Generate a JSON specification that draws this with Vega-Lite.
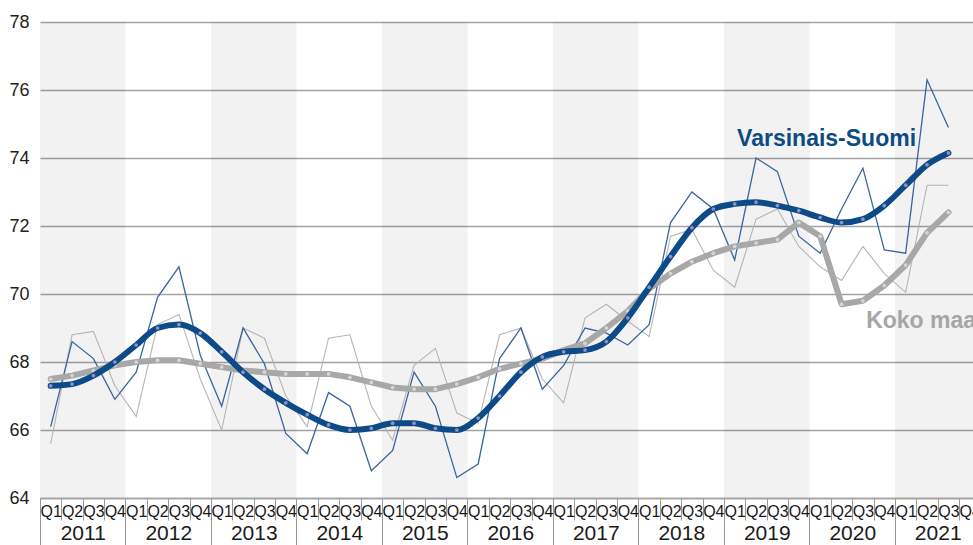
{
  "$schema": "https://vega.github.io/schema/vega-lite/v6.json",
  "width": 933,
  "height": 476,
  "autosize": {"type": "none"},
  "padding": {"left": 40, "top": 22, "right": 0, "bottom": 47},
  "background": "white",
  "config": {
    "view": {"stroke": null},
    "axisY": {
      "title": null, "tickCount": 8,
      "grid": true, "gridColor": "#a3a3a3", "gridWidth": 1.5,
      "domain": false, "ticks": false, "labelPadding": 11,
      "labelFont": "Liberation Sans, Arial, sans-serif", "labelFontSize": 18, "labelColor": "#222222"
    }
  },
  "datasets": {
    "bands": [
      {"year": 2011, "start": 0, "end": 4},
      {"year": 2013, "start": 8, "end": 12},
      {"year": 2015, "start": 16, "end": 20},
      {"year": 2017, "start": 24, "end": 28},
      {"year": 2019, "start": 32, "end": 36},
      {"year": 2021, "start": 40, "end": 44}
    ],
    "labels": [
      {"label": "Varsinais-Suomi", "t": 36.8, "v": 74.55, "series": "vs"},
      {"label": "Koko maa", "t": 38.65, "v": 69.2, "series": "km"}
    ],
    "series": [
      {"q": "2011Q1", "t": 0.5, "vs_raw": 66.1, "vs_trend": 67.3, "km_raw": 65.6, "km_trend": 67.5},
      {"q": "2011Q2", "t": 1.5, "vs_raw": 68.6, "vs_trend": 67.35, "km_raw": 68.8, "km_trend": 67.6},
      {"q": "2011Q3", "t": 2.5, "vs_raw": 68.1, "vs_trend": 67.6, "km_raw": 68.9, "km_trend": 67.75},
      {"q": "2011Q4", "t": 3.5, "vs_raw": 66.9, "vs_trend": 68.0, "km_raw": 67.3, "km_trend": 67.9},
      {"q": "2012Q1", "t": 4.5, "vs_raw": 67.7, "vs_trend": 68.5, "km_raw": 66.4, "km_trend": 68.0},
      {"q": "2012Q2", "t": 5.5, "vs_raw": 69.9, "vs_trend": 69.0, "km_raw": 69.1, "km_trend": 68.05},
      {"q": "2012Q3", "t": 6.5, "vs_raw": 70.8, "vs_trend": 69.1, "km_raw": 69.4, "km_trend": 68.05},
      {"q": "2012Q4", "t": 7.5, "vs_raw": 68.2, "vs_trend": 68.85, "km_raw": 67.5, "km_trend": 67.95},
      {"q": "2013Q1", "t": 8.5, "vs_raw": 66.7, "vs_trend": 68.3, "km_raw": 66.0, "km_trend": 67.85},
      {"q": "2013Q2", "t": 9.5, "vs_raw": 69.0, "vs_trend": 67.7, "km_raw": 69.0, "km_trend": 67.75},
      {"q": "2013Q3", "t": 10.5, "vs_raw": 67.95, "vs_trend": 67.2, "km_raw": 68.7, "km_trend": 67.7},
      {"q": "2013Q4", "t": 11.5, "vs_raw": 65.9, "vs_trend": 66.8, "km_raw": 67.0, "km_trend": 67.65},
      {"q": "2014Q1", "t": 12.5, "vs_raw": 65.3, "vs_trend": 66.45, "km_raw": 66.1, "km_trend": 67.65},
      {"q": "2014Q2", "t": 13.5, "vs_raw": 67.1, "vs_trend": 66.15, "km_raw": 68.7, "km_trend": 67.65},
      {"q": "2014Q3", "t": 14.5, "vs_raw": 66.7, "vs_trend": 66.0, "km_raw": 68.8, "km_trend": 67.55},
      {"q": "2014Q4", "t": 15.5, "vs_raw": 64.8, "vs_trend": 66.05, "km_raw": 66.7, "km_trend": 67.4},
      {"q": "2015Q1", "t": 16.5, "vs_raw": 65.4, "vs_trend": 66.2, "km_raw": 65.7, "km_trend": 67.25},
      {"q": "2015Q2", "t": 17.5, "vs_raw": 67.7, "vs_trend": 66.2, "km_raw": 67.9, "km_trend": 67.2},
      {"q": "2015Q3", "t": 18.5, "vs_raw": 66.7, "vs_trend": 66.05, "km_raw": 68.4, "km_trend": 67.2},
      {"q": "2015Q4", "t": 19.5, "vs_raw": 64.6, "vs_trend": 66.0, "km_raw": 66.5, "km_trend": 67.35},
      {"q": "2016Q1", "t": 20.5, "vs_raw": 65.0, "vs_trend": 66.35, "km_raw": 66.2, "km_trend": 67.55},
      {"q": "2016Q2", "t": 21.5, "vs_raw": 68.1, "vs_trend": 67.0, "km_raw": 68.8, "km_trend": 67.8},
      {"q": "2016Q3", "t": 22.5, "vs_raw": 69.0, "vs_trend": 67.7, "km_raw": 69.0, "km_trend": 67.95},
      {"q": "2016Q4", "t": 23.5, "vs_raw": 67.2, "vs_trend": 68.15, "km_raw": 67.5, "km_trend": 68.1},
      {"q": "2017Q1", "t": 24.5, "vs_raw": 67.9, "vs_trend": 68.3, "km_raw": 66.8, "km_trend": 68.35},
      {"q": "2017Q2", "t": 25.5, "vs_raw": 69.0, "vs_trend": 68.35, "km_raw": 69.3, "km_trend": 68.55},
      {"q": "2017Q3", "t": 26.5, "vs_raw": 68.85, "vs_trend": 68.6, "km_raw": 69.7, "km_trend": 69.0},
      {"q": "2017Q4", "t": 27.5, "vs_raw": 68.5, "vs_trend": 69.3, "km_raw": 69.2, "km_trend": 69.5},
      {"q": "2018Q1", "t": 28.5, "vs_raw": 69.1, "vs_trend": 70.2, "km_raw": 68.75, "km_trend": 70.15},
      {"q": "2018Q2", "t": 29.5, "vs_raw": 72.1, "vs_trend": 71.1, "km_raw": 71.7, "km_trend": 70.6},
      {"q": "2018Q3", "t": 30.5, "vs_raw": 73.0, "vs_trend": 71.95, "km_raw": 71.9, "km_trend": 70.95},
      {"q": "2018Q4", "t": 31.5, "vs_raw": 72.5, "vs_trend": 72.5, "km_raw": 70.7, "km_trend": 71.2},
      {"q": "2019Q1", "t": 32.5, "vs_raw": 71.0, "vs_trend": 72.65, "km_raw": 70.2, "km_trend": 71.4},
      {"q": "2019Q2", "t": 33.5, "vs_raw": 74.0, "vs_trend": 72.7, "km_raw": 72.2, "km_trend": 71.5},
      {"q": "2019Q3", "t": 34.5, "vs_raw": 73.6, "vs_trend": 72.6, "km_raw": 72.5, "km_trend": 71.6},
      {"q": "2019Q4", "t": 35.5, "vs_raw": 71.7, "vs_trend": 72.45, "km_raw": 71.4, "km_trend": 72.1},
      {"q": "2020Q1", "t": 36.5, "vs_raw": 71.2, "vs_trend": 72.25, "km_raw": 70.8, "km_trend": 71.7},
      {"q": "2020Q2", "t": 37.5, "vs_raw": 72.5, "vs_trend": 72.1, "km_raw": 70.4, "km_trend": 69.7},
      {"q": "2020Q3", "t": 38.5, "vs_raw": 73.7, "vs_trend": 72.2, "km_raw": 71.4, "km_trend": 69.8},
      {"q": "2020Q4", "t": 39.5, "vs_raw": 71.3, "vs_trend": 72.6, "km_raw": 70.6, "km_trend": 70.25},
      {"q": "2021Q1", "t": 40.5, "vs_raw": 71.2, "vs_trend": 73.2, "km_raw": 70.05, "km_trend": 70.85},
      {"q": "2021Q2", "t": 41.5, "vs_raw": 76.3, "vs_trend": 73.8, "km_raw": 73.2, "km_trend": 71.8},
      {"q": "2021Q3", "t": 42.5, "vs_raw": 74.9, "vs_trend": 74.15, "km_raw": 73.2, "km_trend": 72.4}
    ]
  },
  "layer": [
    {
      "data": {"name": "bands"},
      "mark": {"type": "rect", "fill": "#000000", "fillOpacity": 0.052, "clip": true},
      "encoding": {
        "x": {
          "field": "start", "type": "quantitative",
          "scale": {"domain": [0, 43.65], "nice": false, "zero": false},
          "axis": {
            "orient": "bottom", "title": null, "grid": false, "domain": false,
            "values": [0, 4, 8, 12, 16, 20, 24, 28, 32, 36, 40],
            "labelExpr": "toString(2011 + datum.value / 4)",
            "tickSize": 47, "tickColor": "#9a9a9a", "tickWidth": 1,
            "labelOffset": 42.75, "labelPadding": -23, "labelBaseline": "top",
            "labelFlush": false, "labelOverlap": false, "labelBound": false,
            "labelFont": "Liberation Sans Narrow, Arial Narrow, sans-serif", "labelFontSize": 21, "labelColor": "#1a1a1a"
          }
        },
        "x2": {"field": "end"},
        "y": {"datum": 64, "type": "quantitative", "title": null, "scale": {"domain": [64, 78], "nice": false, "zero": false}},
        "y2": {"datum": 78}
      }
    },
    {
      "data": {"name": "series"},
      "encoding": {
        "x": {
          "field": "t", "type": "quantitative",
          "scale": {"domain": [0, 43.65], "nice": false, "zero": false},
          "axis": {
            "orient": "bottom", "title": null, "grid": false,
            "values": [0,1,2,3,4,5,6,7,8,9,10,11,12,13,14,15,16,17,18,19,20,21,22,23,24,25,26,27,28,29,30,31,32,33,34,35,36,37,38,39,40,41,42,43],
            "labelExpr": "'Q' + (datum.value % 4 + 1)",
            "domain": true, "domainColor": "#a3a3a3", "domainWidth": 1.5,
            "tickSize": 22, "tickColor": "#9a9a9a", "tickWidth": 1,
            "labelOffset": 10.69, "labelPadding": -17, "labelBaseline": "top",
            "labelFlush": false, "labelOverlap": false, "labelBound": false,
            "labelFont": "Liberation Sans Narrow, Arial Narrow, sans-serif", "labelFontSize": 16, "labelColor": "#1a1a1a"
          }
        }
      },
      "layer": [
        {
          "mark": {"type": "line", "stroke": "#b5b5b5", "strokeWidth": 1.1},
          "encoding": {"y": {"field": "km_raw", "type": "quantitative", "title": null}}
        },
        {
          "mark": {"type": "line", "stroke": "#3a65a0", "strokeWidth": 1.3},
          "encoding": {"y": {"field": "vs_raw", "type": "quantitative", "title": null}}
        },
        {
          "mark": {"type": "line", "stroke": "#a8a8a8", "strokeWidth": 6, "strokeCap": "round", "strokeJoin": "round"},
          "encoding": {"y": {"field": "km_trend", "type": "quantitative", "title": null}}
        },
        {
          "mark": {"type": "point", "filled": true, "fill": "#d6d6d6", "opacity": 1, "size": 14, "strokeWidth": 0},
          "encoding": {"y": {"field": "km_trend", "type": "quantitative", "title": null}}
        },
        {
          "mark": {"type": "line", "stroke": "#0d4a88", "strokeWidth": 6, "interpolate": "monotone", "strokeCap": "round"},
          "encoding": {"y": {"field": "vs_trend", "type": "quantitative", "title": null}}
        },
        {
          "mark": {"type": "point", "filled": true, "fill": "#8f90c4", "opacity": 1, "size": 14, "strokeWidth": 0},
          "encoding": {"y": {"field": "vs_trend", "type": "quantitative", "title": null}}
        },
        {
          "data": {"name": "labels"},
          "transform": [{"filter": "datum.series === 'vs'"}],
          "mark": {"type": "text", "align": "center", "baseline": "middle", "fontWeight": "bold", "font": "Liberation Sans Narrow, Arial Narrow, sans-serif", "fontSize": 23, "fill": "#0e4a84"},
          "encoding": {
            "y": {"field": "v", "type": "quantitative", "title": null},
            "text": {"field": "label"}
          }
        },
        {
          "data": {"name": "labels"},
          "transform": [{"filter": "datum.series === 'km'"}],
          "mark": {"type": "text", "align": "left", "baseline": "middle", "fontWeight": "bold", "font": "Liberation Sans Narrow, Arial Narrow, sans-serif", "fontSize": 23, "fill": "#a6a6a6"},
          "encoding": {
            "y": {"field": "v", "type": "quantitative", "title": null},
            "text": {"field": "label"}
          }
        }
      ]
    }
  ],
  "resolve": {"scale": {"x": "independent"}}
}
